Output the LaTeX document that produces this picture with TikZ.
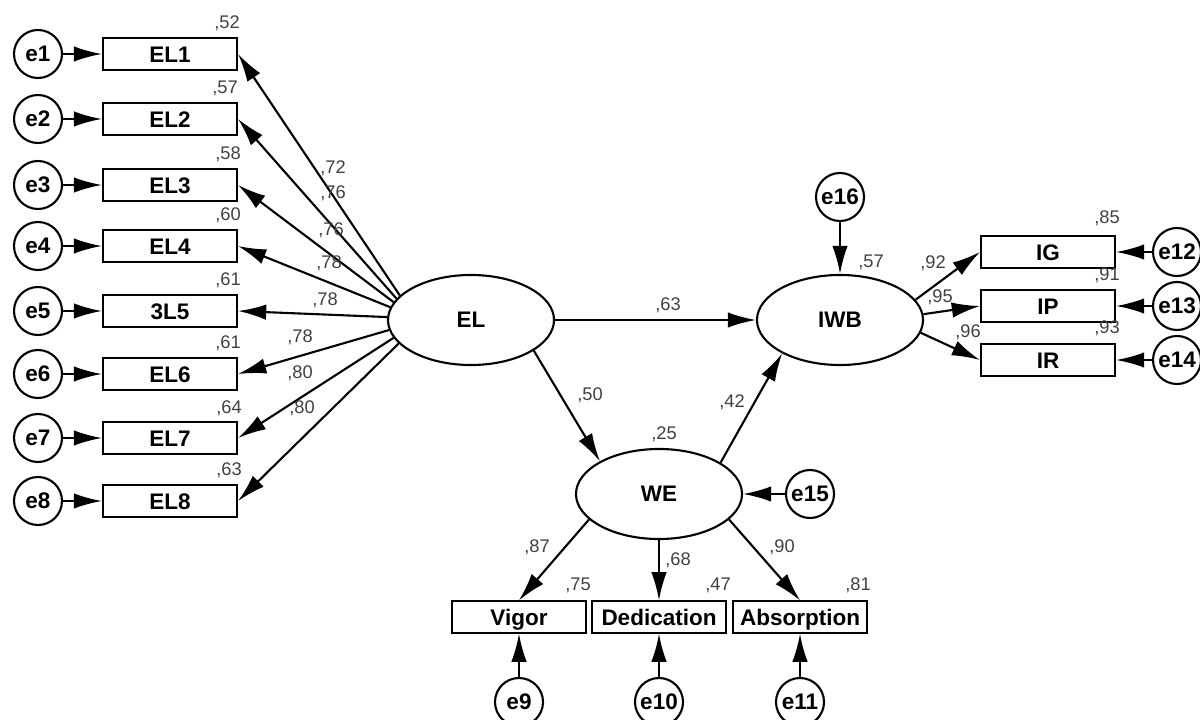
\documentclass[tikz,border=0pt]{standalone}
\usepackage{fontspec}
\setmainfont{Liberation Sans}
\usetikzlibrary{arrows.meta,shapes.geometric}

\begin{document}
\begin{tikzpicture}[>={Latex[length=20pt,width=11pt]}, line width=1.5pt, x=0.025cm, y=-0.025cm,
		obs/.style={draw, rectangle, minimum width=3.35cm, minimum height=0.78cm, inner sep=0pt, text height=11.5pt, text depth=0pt, font=\fontsize{16}{18}\selectfont\bfseries},
		lat/.style={draw, ellipse, minimum width=4.15cm, minimum height=2.25cm, inner sep=0pt, font=\fontsize{16}{18}\selectfont\bfseries},
		err/.style={draw, circle, minimum size=1.2cm, inner sep=0pt, font=\fontsize{16}{18}\selectfont\bfseries},
		val/.style={inner sep=0pt, text=black!75, font=\fontsize{13}{15}\selectfont}]
	\useasboundingbox (0,0) rectangle (1200,720);
	
	% 潜变量
	\node[lat] (EL) at (471,320) {EL};
	\node[lat] (IWB) at (840,320) {IWB};
	\node[lat] (WE) at (659,494) {WE};
	
	% EL 的指标
	\node[obs] (EL1) at (170,54) {EL1};
	\node[obs] (EL2) at (170,119) {EL2};
	\node[obs] (EL3) at (170,185) {EL3};
	\node[obs] (EL4) at (170,246) {EL4};
	\node[obs] (EL5) at (170,311) {3L5};
	\node[obs] (EL6) at (170,374) {EL6};
	\node[obs] (EL7) at (170,438) {EL7};
	\node[obs] (EL8) at (170,501) {EL8};
	
	\node[err] (e1) at (38,54) {e1};
	\node[err] (e2) at (38,119) {e2};
	\node[err] (e3) at (38,185) {e3};
	\node[err] (e4) at (38,246) {e4};
	\node[err] (e5) at (38,311) {e5};
	\node[err] (e6) at (38,374) {e6};
	\node[err] (e7) at (38,438) {e7};
	\node[err] (e8) at (38,501) {e8};
	
	\draw[->] (e1) -- (EL1);
	\draw[->] (e2) -- (EL2);
	\draw[->] (e3) -- (EL3);
	\draw[->] (e4) -- (EL4);
	\draw[->] (e5) -- (EL5);
	\draw[->] (e6) -- (EL6);
	\draw[->] (e7) -- (EL7);
	\draw[->] (e8) -- (EL8);
	
	\draw[->] (EL.161) -- (EL1.east);
	\draw[->] (EL.164) -- (EL2.east);
	\draw[->] (EL.167) -- (EL3.east);
	\draw[->] (EL.171) -- (EL4.east);
	\draw[->] (EL.178) -- (EL5.east);
	\draw[->] (EL.187) -- (EL6.east);
	\draw[->] (EL.193) -- (EL7.east);
	\draw[->] (EL.198) -- (EL8.east);
	
	\node[val] at (227,23) {,52};
	\node[val] at (225,88) {,57};
	\node[val] at (228,154) {,58};
	\node[val] at (228,215) {,60};
	\node[val] at (228,280) {,61};
	\node[val] at (228,343) {,61};
	\node[val] at (229,408) {,64};
	\node[val] at (229,470) {,63};
	
	\node[val] at (333,168) {,72};
	\node[val] at (333,193) {,76};
	\node[val] at (331,230) {,76};
	\node[val] at (329,263) {,78};
	\node[val] at (325,300) {,78};
	\node[val] at (300,337) {,78};
	\node[val] at (300,373) {,80};
	\node[val] at (302,408) {,80};
	
	% 结构路径
	\draw[->] (EL.east) -- (IWB.west);
	\draw[->] (EL.334) -- (WE.151);
	\draw[->] (WE.27) -- (IWB.210);
	\node[val] at (668,305) {,63};
	\node[val] at (590,395) {,50};
	\node[val] at (732,402) {,42};
	\node[val] at (664,434) {,25};
	\node[val] at (871,262) {,57};
	
	\node[err] (e16) at (840,197) {e16};
	\node[err] (e15) at (810,494) {e15};
	\draw[->] (e16) -- (IWB);
	\draw[->] (e15) -- (WE);
	
	% IWB 的指标
	\node[obs] (IG) at (1048,252) {IG};
	\node[obs] (IP) at (1048,306) {IP};
	\node[obs] (IR) at (1048,360) {IR};
	\node[err] (e12) at (1177,252) {e12};
	\node[err] (e13) at (1177,306) {e13};
	\node[err] (e14) at (1177,360) {e14};
	
	\draw[->] (IWB.15) -- (IG.west);
	\draw[->] (IWB.4) -- (IP.west);
	\draw[->] (IWB.-9) -- (IR.west);
	\draw[->] (e12) -- (IG);
	\draw[->] (e13) -- (IP);
	\draw[->] (e14) -- (IR);
	
	\node[val] at (933,263) {,92};
	\node[val] at (940,297) {,95};
	\node[val] at (968,332) {,96};
	\node[val] at (1107,218) {,85};
	\node[val] at (1107,275) {,91};
	\node[val] at (1107,328) {,93};
	
	% WE 的指标
	\node[obs] (Vigor) at (519,617) {Vigor};
	\node[obs] (Ded) at (659,617) {Dedication};
	\node[obs] (Abs) at (800,617) {Absorption};
	\node[err] (e9) at (519,702) {e9};
	\node[err] (e10) at (659,702) {e10};
	\node[err] (e11) at (800,702) {e11};
	
	\draw[->] (WE.200) -- (Vigor.north);
	\draw[->] (WE.south) -- (Ded.north);
	\draw[->] (WE.340) -- (Abs.north);
	\draw[->] (e9) -- (Vigor);
	\draw[->] (e10) -- (Ded);
	\draw[->] (e11) -- (Abs);
	
	\node[val] at (537,547) {,87};
	\node[val] at (678,560) {,68};
	\node[val] at (782,547) {,90};
	\node[val] at (578,585) {,75};
	\node[val] at (718,585) {,47};
	\node[val] at (858,585) {,81};
\end{tikzpicture}
\end{document}
